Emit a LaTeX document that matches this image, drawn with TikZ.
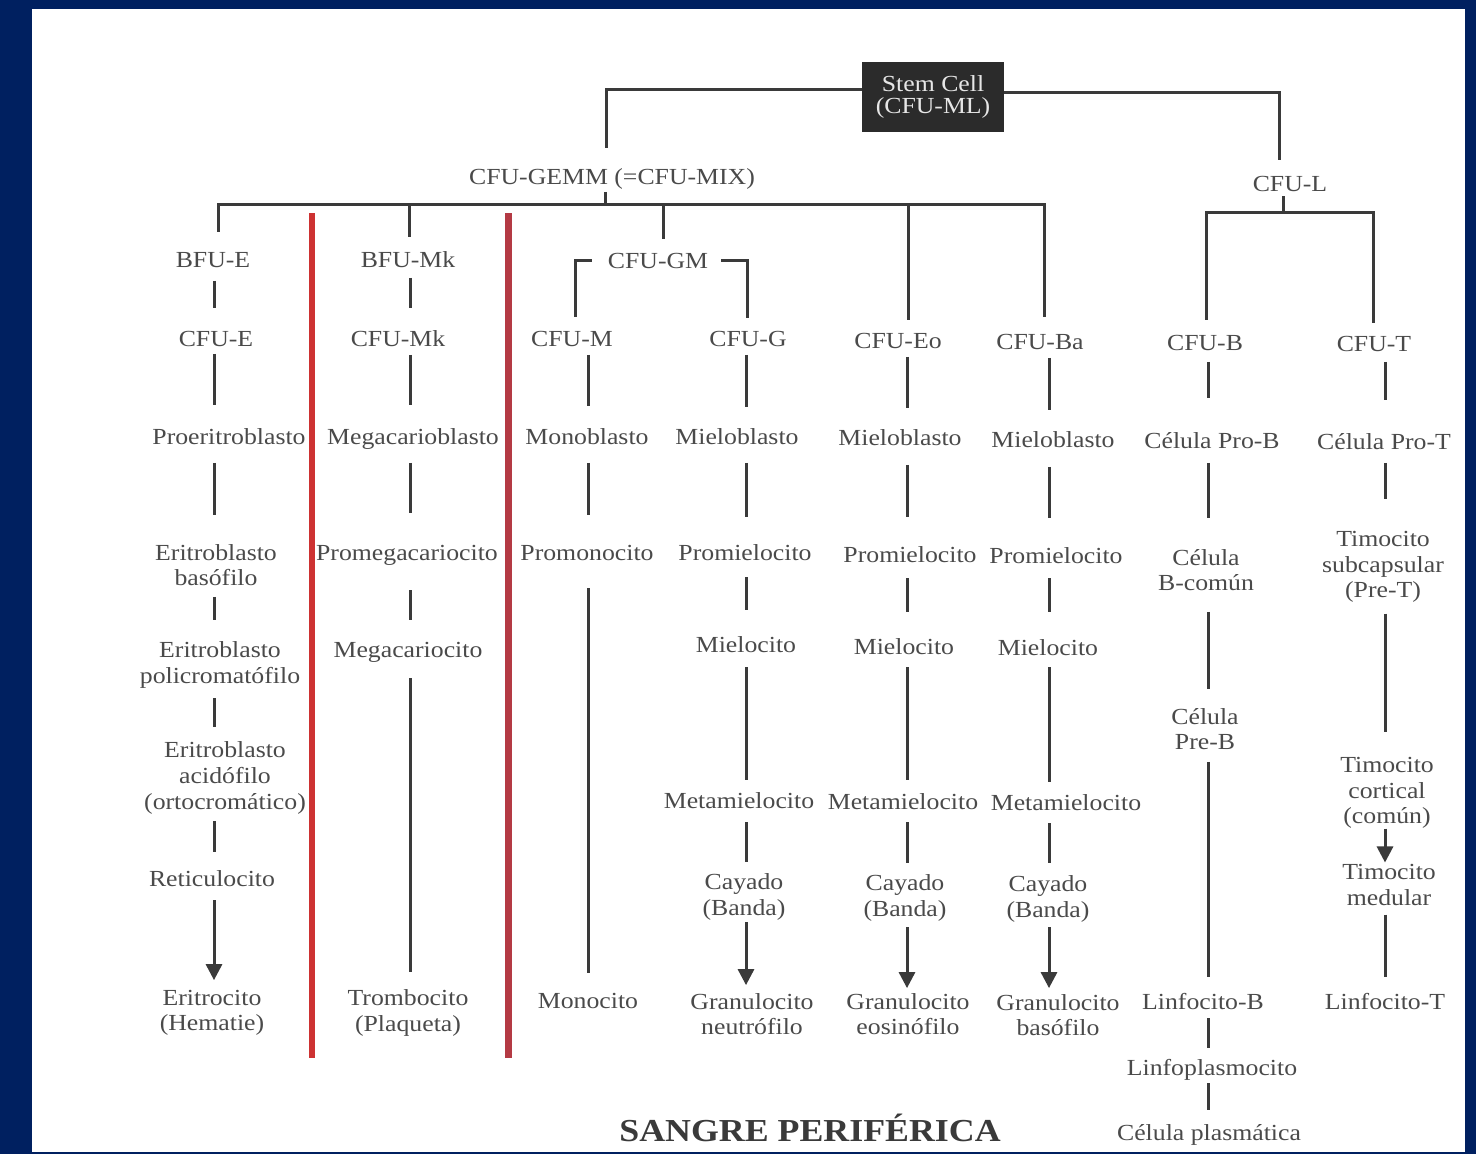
\documentclass[tikz,border=0pt]{standalone}
\usepackage{fontspec}
\setmainfont{Liberation Serif}[FakeStretch=1.12]
\usetikzlibrary{arrows.meta}
\definecolor{navy}{HTML}{002060}
\definecolor{txt}{HTML}{4A4A4A}
\definecolor{ink}{HTML}{3A3A3A}
\definecolor{stemfill}{HTML}{2B2B2B}
\definecolor{stemtxt}{HTML}{E6E6E6}
\definecolor{redA}{RGB}{205,50,50}
\definecolor{redB}{RGB}{180,58,68}
\newcommand\vl[6][conn]{\draw[#1, shorten <=#5pt, shorten >=#6pt] (#2.south -| #4) -- (#3.north -| #4);}
\begin{document}
\begin{tikzpicture}[x=0.5pt,y=-0.5pt,
  conn/.style={draw=ink, line width=1.5pt},
  arr/.style={conn, -{Triangle[length=8pt,width=8pt]}},
  lbl/.style={inner sep=0pt, outer sep=0pt, text=txt, font=\fontsize{11.5}{12.8}\selectfont},
  lone/.style={lbl, text height=8pt, text depth=2.5pt},
  lmulti/.style={lbl, align=center},
  stembox/.style={fill=stemfill, text=stemtxt, minimum width=71pt, minimum height=35pt, inner sep=0pt, align=center, font=\fontsize{11.5}{11}\selectfont},
  ttl/.style={inner sep=0pt, text=ink, font=\fontsize{16}{18}\selectfont\bfseries}
]
\useasboundingbox (0,0) rectangle (1476,1154);
\fill[navy] (0,0) rectangle (1476,1154);
\fill[white] (32,9) rectangle (1465,1152);

% column and connector coordinates
\coordinate (cE) at (214,0);
\coordinate (cMk) at (410,0);
\coordinate (cM) at (588,0);
\coordinate (cG) at (746,0);
\coordinate (cEo) at (907,0);
\coordinate (cBa) at (1049,0);
\coordinate (cB) at (1208,0);
\coordinate (cT) at (1385,0);
\coordinate (gx) at (606,0);
\coordinate (lx) at (1279,0);
\coordinate (tx) at (605,0);
\coordinate (ltx) at (1283,0);
\coordinate (barL) at (218,205);
\coordinate (barL2) at (1206,213);
\coordinate (dE) at (218,0);
\coordinate (dMk) at (409,0);
\coordinate (dGM) at (663,0);
\coordinate (dEo) at (908,0);
\coordinate (dBa) at (1044,0);
\coordinate (dB) at (1206,0);
\coordinate (dT) at (1373,0);
\coordinate (gmL) at (575,0);
\coordinate (gmR) at (747,0);

% red separators
\fill[redA] (308.5,213) rectangle (315,1058);
\fill[redB] (505,213) rectangle (511.5,1058);

% nodes
\node[stembox] (Stem) at (933,97) {Stem Cell\\(CFU-ML)};
\node[lone] (GEMM) at (612,179) {CFU-GEMM (=CFU-MIX)};
\node[lone] (CFUL) at (1290,186) {CFU-L};

\node[lone] (BFUE) at (213,262) {BFU-E};
\node[lone] (BFUMk) at (408,262) {BFU-Mk};
\node[lone] (CFUGM) at (658,263) {CFU-GM};

\node[lone] (CFUE) at (216,341.5) {CFU-E};
\node[lone] (CFUMk) at (398,341) {CFU-Mk};
\node[lone] (CFUM) at (572,341) {CFU-M};
\node[lone] (CFUG) at (748,341) {CFU-G};
\node[lone] (CFUEo) at (898,343) {CFU-Eo};
\node[lone] (CFUBa) at (1040,344) {CFU-Ba};
\node[lone] (CFUB) at (1205,345) {CFU-B};
\node[lone] (CFUT) at (1374,346) {CFU-T};

\node[lone] (Proeri) at (229,439) {Proeritroblasto};
\node[lone] (Megabl) at (413,439) {Megacarioblasto};
\node[lone] (Monobl) at (587,439) {Monoblasto};
\node[lone] (MieloG) at (737,439) {Mieloblasto};
\node[lone] (MieloEo) at (900,440) {Mieloblasto};
\node[lone] (MieloBa) at (1053,442) {Mieloblasto};
\node[lone] (ProB) at (1212,443) {Célula Pro-B};
\node[lone] (ProT) at (1384,444) {Célula Pro-T};

\node[lmulti] (EritBas) at (216,565) {Eritroblasto\\basófilo};
\node[lone] (Promega) at (407,555) {Promegacariocito};
\node[lone] (Promono) at (587,555) {Promonocito};
\node[lone] (PromG) at (745,555) {Promielocito};
\node[lone] (PromEo) at (910,557) {Promielocito};
\node[lone] (PromBa) at (1056,558) {Promielocito};
\node[lmulti] (Bcomun) at (1206,570) {Célula\\B-común};
\node[lmulti] (Subcap) at (1383,567) {Timocito\\subcapsular\\(Pre-T)};

\node[lmulti] (EritPoli) at (220,665) {Eritroblasto\\policromatófilo};
\node[lone] (Megacito) at (408,652) {Megacariocito};
\node[lone] (MielcG) at (746,647) {Mielocito};
\node[lone] (MielcEo) at (904,649) {Mielocito};
\node[lone] (MielcBa) at (1048,650) {Mielocito};
\node[lmulti] (PreB) at (1205,729) {Célula\\Pre-B};

\node[lmulti] (EritAcid) at (225,778) {Eritroblasto\\acidófilo\\(ortocromático)};
\node[lone] (MetaG) at (739,803) {Metamielocito};
\node[lone] (MetaEo) at (903,804) {Metamielocito};
\node[lone] (MetaBa) at (1066,805) {Metamielocito};
\node[lmulti] (Cortical) at (1387,793) {Timocito\\cortical\\(común)};

\node[lone] (Retic) at (212,881) {Reticulocito};
\node[lmulti] (CayG) at (744,897) {Cayado\\(Banda)};
\node[lmulti] (CayEo) at (905,898) {Cayado\\(Banda)};
\node[lmulti] (CayBa) at (1048,899) {Cayado\\(Banda)};
\node[lmulti] (Medular) at (1389,885) {Timocito\\medular};

\node[lmulti] (Eritro) at (212,1013) {Eritrocito\\(Hematie)};
\node[lmulti] (Trombo) at (408,1013) {Trombocito\\(Plaqueta)};
\node[lone] (Monocito) at (588,1003) {Monocito};
\node[lmulti] (GranG) at (752,1014) {Granulocito\\neutrófilo};
\node[lmulti] (GranEo) at (908,1014) {Granulocito\\eosinófilo};
\node[lmulti] (GranBa) at (1058,1015) {Granulocito\\basófilo};
\node[lone] (LinfB) at (1203,1004) {Linfocito-B};
\node[lone] (LinfT) at (1385,1004) {Linfocito-T};
\node[lone] (Linfopl) at (1212,1070) {Linfoplasmocito};
\node[lone] (Cplasm) at (1209,1135) {Célula plasmática};

\node[ttl] (Sangre) at (810,1128) {SANGRE PERIFÉRICA};

% top connectors
\draw[conn, shorten >=10.25pt] ([yshift=3.5pt]Stem.west) -| (GEMM.north -| gx);
\draw[conn, shorten >=7.75pt] ([yshift=2pt]Stem.east) -| (CFUL.north -| lx);
\draw[conn, shorten <=1.25pt] (GEMM.south -| tx) -- (tx |- barL);
\draw[conn, shorten <=9.75pt, shorten >=8.25pt] (dE |- BFUE.north) -- (dE |- barL) -- (dBa |- barL) -- (dBa |- CFUBa.north);
\draw[conn, shorten >=7.25pt] (dMk |- barL) -- (dMk |- BFUMk.north);
\draw[conn, shorten >=6.75pt] (dGM |- barL) -- (dGM |- CFUGM.north);
\draw[conn, shorten >=6.25pt] (dEo |- barL) -- (dEo |- CFUEo.north);
\draw[conn] (CFUL.south -| ltx) -- (ltx |- barL2);
\draw[conn, shorten <=7.25pt, shorten >=6.25pt] (dB |- CFUB.north) -- (dB |- barL2) -- (dT |- barL2) -- (dT |- CFUT.north);
\draw[conn, shorten <=8pt, shorten >=6.75pt] ([yshift=1pt]CFUGM.west) -| (CFUM.north -| gmL);
\draw[conn, shorten <=6.5pt, shorten >=6.25pt] ([yshift=1pt]CFUGM.east) -| (CFUG.north -| gmR);

% erythroid
\vl{BFUE}{CFUE}{cE}{4.25}{11.5}
\vl{CFUE}{Proeri}{cE}{1}{11.75}
\vl{Proeri}{EritBas}{cE}{6.75}{14.5}
\vl{EritBas}{EritPoli}{cE}{5.5}{11}
\vl{EritPoli}{EritAcid}{cE}{5}{7.5}
\vl{EritAcid}{Retic}{cE}{3.5}{9.25}
\vl[arr]{Retic}{Eritro}{cE}{4.25}{5}
% megakaryocytic
\vl{BFUMk}{CFUMk}{cMk}{2.75}{11.25}
\vl{CFUMk}{Megabl}{cMk}{1.75}{11.75}
\vl{Megabl}{Promega}{cMk}{6.75}{15.75}
\vl{Promega}{Megacito}{cMk}{12.25}{10.75}
\vl{Megacito}{Trombo}{cMk}{7.75}{9}
% monocytic
\vl{CFUM}{Monobl}{cM}{1.75}{11.25}
\vl{Monobl}{Promono}{cM}{6.75}{14.75}
\vl{Promono}{Monocito}{cM}{11.25}{9.75}
% neutrophil
\vl{CFUG}{MieloG}{cG}{1.75}{10.75}
\vl{MieloG}{PromG}{cG}{6.75}{13.75}
\vl{PromG}{MielcG}{cG}{5.75}{13.25}
\vl{MielcG}{MetaG}{cG}{4.75}{6.25}
\vl{MetaG}{CayG}{cG}{4.25}{6}
\vl[arr]{CayG}{GranG}{cG}{1}{4}
% eosinophil
\vl{CFUEo}{MieloEo}{cEo}{1.75}{10.75}
\vl{MieloEo}{PromEo}{cEo}{7.25}{14.75}
\vl{PromEo}{MielcEo}{cEo}{5.25}{13.25}
\vl{MielcEo}{MetaEo}{cEo}{3.75}{6.75}
\vl{MetaEo}{CayEo}{cEo}{3.75}{6}
\vl[arr]{CayEo}{GranEo}{cEo}{3}{2.5}
% basophil
\vl{CFUBa}{MieloBa}{cBa}{1.75}{10.75}
\vl{MieloBa}{PromBa}{cBa}{7.25}{14.75}
\vl{PromBa}{MielcBa}{cBa}{4.75}{13.75}
\vl{MielcBa}{MetaBa}{cBa}{3.25}{6.25}
\vl{MetaBa}{CayBa}{cBa}{3.75}{6.5}
\vl[arr]{CayBa}{GranBa}{cBa}{2.5}{3}
% B lymphoid
\vl{CFUB}{ProB}{cB}{3.25}{17.25}
\vl{ProB}{Bcomun}{cB}{4.75}{15.5}
\vl{Bcomun}{PreB}{cB}{10.5}{9.5}
\vl{PreB}{LinfB}{cB}{6}{8.25}
\vl{LinfB}{Linfopl}{cB}{1.75}{5.75}
\vl{Linfopl}{Cplasm}{cB}{1.25}{7.25}
% T lymphoid
\vl{CFUT}{ProT}{cT}{2.75}{16.75}
\vl{ProT}{Subcap}{cT}{4.25}{16}
\vl{Subcap}{Cortical}{cT}{5.5}{12.5}
\vl[arr]{Cortical}{Medular}{cT}{0}{1}
\vl{Medular}{LinfT}{cT}{4.5}{8.25}
\end{tikzpicture}
\end{document}
